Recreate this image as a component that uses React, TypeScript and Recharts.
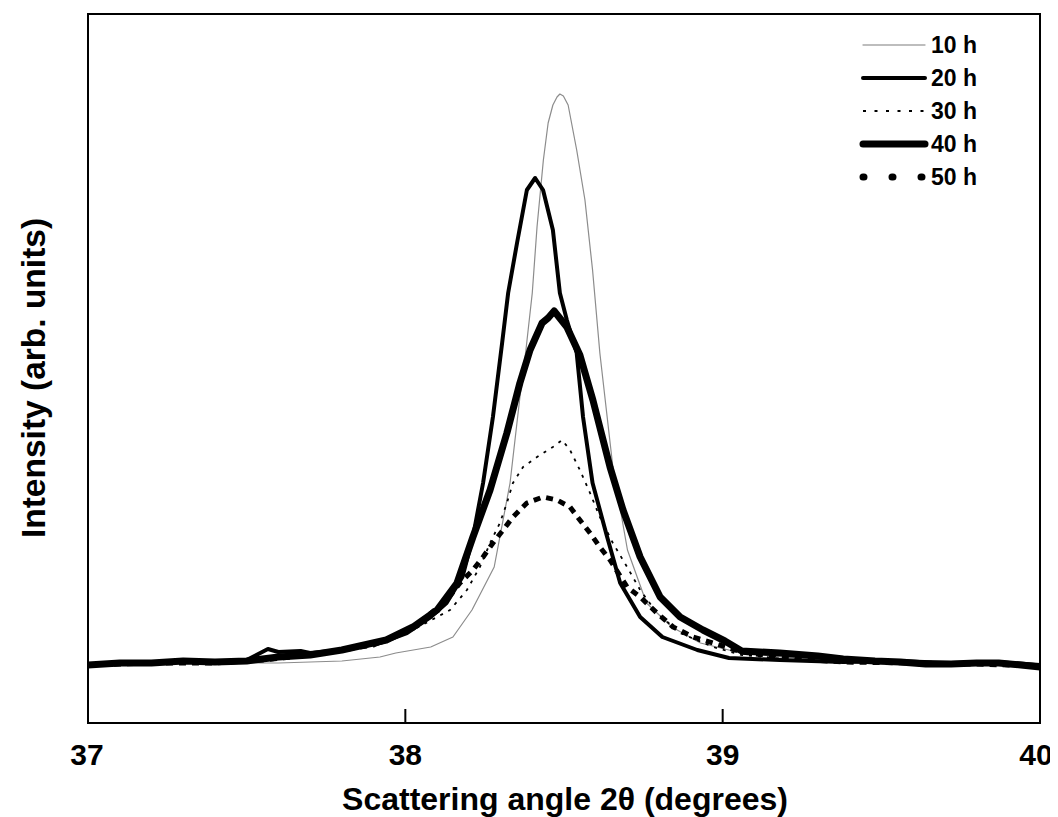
import React from "react";
import { LineChart, Line, XAxis, YAxis } from "recharts";

// Scattering angle 2θ (degrees) and intensity (arb. units)
const x10 = [37.0, 37.2, 37.4, 37.6, 37.7, 37.8, 37.92, 37.97, 38.08, 38.15, 38.21, 38.28, 38.33, 38.36, 38.38, 38.40, 38.415, 38.435, 38.45, 38.465, 38.478, 38.487, 38.498, 38.513, 38.54, 38.566, 38.59, 38.613, 38.654, 38.70, 38.76, 38.84, 38.93, 39.045, 39.18, 39.38, 39.72, 40.0];
const y10 = [-2, -1, 0, 0, 1, 2, 6, 10, 16, 26, 53, 96, 180, 263, 313, 370, 436, 503, 540, 558, 566, 569, 567, 558, 513, 463, 393, 310, 196, 113, 60, 36, 20, 11, 6, 2, 0, -1];

const x20 = [37.0, 37.1, 37.2, 37.3, 37.4, 37.5, 37.567, 37.6, 37.67, 37.7, 37.8, 37.92, 38.005, 38.08, 38.13, 38.18, 38.213, 38.245, 38.276, 38.305, 38.324, 38.352, 38.383, 38.409, 38.434, 38.465, 38.487, 38.509, 38.54, 38.56, 38.59, 38.636, 38.677, 38.74, 38.81, 38.92, 39.02, 39.18, 39.38, 39.55, 39.72, 39.86, 40.0];
const y20 = [-2, -1, 0, 1, 1, 3, 14, 11, 12, 10, 13, 20, 30, 46, 60, 86, 126, 180, 246, 320, 370, 420, 473, 485, 473, 433, 370, 343, 310, 246, 180, 126, 80, 46, 26, 13, 5, 3, 1, 2, 0, 1, -2];

const x30 = [37.0, 37.2, 37.4, 37.55, 37.7, 37.9, 38.024, 38.141, 38.194, 38.235, 38.267, 38.298, 38.32, 38.339, 38.371, 38.415, 38.465, 38.494, 38.519, 38.55, 38.582, 38.613, 38.654, 38.699, 38.74, 38.793, 38.866, 38.97, 39.06, 39.2, 39.38, 39.6, 39.8, 40.0];
const y30 = [-2, 0, 0, 3, 7, 18, 33, 53, 73, 96, 120, 140, 160, 180, 196, 206, 216, 223, 213, 193, 170, 146, 120, 96, 73, 50, 30, 16, 8, 4, 1, 0, -1, -2];

const x40 = [37.0, 37.1, 37.2, 37.3, 37.4, 37.5, 37.6, 37.7, 37.8, 37.94, 38.024, 38.10, 38.163, 38.213, 38.267, 38.32, 38.361, 38.393, 38.431, 38.45, 38.469, 38.509, 38.55, 38.591, 38.645, 38.686, 38.74, 38.803, 38.866, 38.938, 39.007, 39.06, 39.18, 39.3, 39.38, 39.48, 39.56, 39.64, 39.72, 39.8, 39.87, 39.94, 40.0];
const y40 = [-2, 0, 0, 2, 1, 2, 6, 8, 13, 23, 36, 53, 80, 126, 173, 230, 280, 313, 340, 345, 352, 336, 308, 263, 196, 153, 106, 66, 46, 33, 22, 12, 10, 7, 4, 2, 1, -1, -1, 0, 0, -2, -4];

const x50 = [37.0, 37.2, 37.4, 37.55, 37.7, 37.9, 38.024, 38.131, 38.172, 38.213, 38.245, 38.276, 38.308, 38.339, 38.383, 38.434, 38.478, 38.519, 38.55, 38.582, 38.613, 38.645, 38.699, 38.74, 38.793, 38.844, 38.907, 38.97, 39.06, 39.2, 39.38, 39.6, 39.8, 40.0];
const y50 = [-2, 0, 0, 3, 8, 18, 35, 63, 80, 93, 106, 120, 133, 146, 160, 166, 163, 156, 143, 130, 116, 103, 76, 66, 50, 36, 26, 20, 11, 5, 1, 0, -1, -3];

const seriesNames = ["10 h", "20 h", "30 h", "40 h", "50 h"];
const xTicks = [37, 38, 39, 40];
const xDomain: [number, number] = [37, 40];
const yDomain: [number, number] = [-60, 649];

const toData = (xs: number[], ys: number[]) => xs.map((x, i) => ({ x, y: ys[i] }));

const FONT = "'Liberation Sans', Arial, Helvetica, sans-serif";

const series = [
  { name: seriesNames[0], data: toData(x10, y10), stroke: "#8c8c8c", legendStroke: "#a8a8a8", width: 1.2, dash: undefined, legendDash: undefined, legendWidth: 1.3, cap: "round" },
  { name: seriesNames[1], data: toData(x20, y20), stroke: "#000", legendStroke: "#000", width: 4, dash: undefined, legendDash: undefined, legendWidth: 4, cap: "round" },
  { name: seriesNames[2], data: toData(x30, y30), stroke: "#000", legendStroke: "#000", width: 1.8, dash: "3 6", legendDash: "3 8.5", legendWidth: 1.8, cap: "butt" },
  { name: seriesNames[3], data: toData(x40, y40), stroke: "#000", legendStroke: "#000", width: 7, dash: undefined, legendDash: undefined, legendWidth: 7, cap: "round" },
  { name: seriesNames[4], data: toData(x50, y50), stroke: "#000", legendStroke: "#000", width: 5, dash: "7 6", legendDash: "1 28", legendWidth: 7, cap: "round" },
];

// layout constants
const W = 1050;
const H = 809;
const MARGIN = { top: 6, right: 18, bottom: 0, left: 0 };
const Y_AXIS_W = 80;
const X_AXIS_H = 94;
const PLOT = {
  x: MARGIN.left + Y_AXIS_W,
  y: MARGIN.top,
  w: W - MARGIN.left - Y_AXIS_W - MARGIN.right,
  h: H - MARGIN.top - MARGIN.bottom - X_AXIS_H,
};

const XTick = (props: any) => {
  const { x, y, payload, index } = props;
  const last = payload.value === xTicks[xTicks.length - 1];
  return (
    <g>
      <line x1={x} y1={y} x2={x} y2={y - 14} stroke="#000" strokeWidth={2} />
      <text
        x={last ? x - 4 : x - (index === 0 ? 1 : 0)}
        y={y + 42}
        textAnchor="middle"
        fontSize={30}
        fontWeight="bold"
        fontFamily={FONT}
        fill="#000"
      >
        {payload.value}
      </text>
    </g>
  );
};

export default function App() {
  return (
    <div style={{ position: "relative", width: W, height: H, background: "#fff" }}>
      <style>{`html{overflow:hidden}`}</style>
      <LineChart width={W} height={H} margin={MARGIN}>
        <XAxis
          dataKey="x"
          type="number"
          domain={xDomain}
          ticks={xTicks}
          tick={<XTick />}
          tickLine={false}
          tickSize={0}
          tickMargin={0}
          height={X_AXIS_H}
          axisLine={{ stroke: "#000", strokeWidth: 2 }}
          allowDataOverflow
        />
        <YAxis
          type="number"
          domain={yDomain}
          width={Y_AXIS_W}
          tick={false}
          tickLine={false}
          axisLine={{ stroke: "#000", strokeWidth: 2 }}
          allowDataOverflow
        />
        {series.map((s) => (
          <Line
            key={s.name}
            data={s.data}
            dataKey="y"
            name={s.name}
            type="linear"
            stroke={s.stroke}
            strokeWidth={s.width}
            strokeDasharray={s.dash}
            strokeLinejoin="round"
            dot={false}
            activeDot={false}
            isAnimationActive={false}
          />
        ))}
      </LineChart>
      <svg
        width={W}
        height={H}
        style={{ position: "absolute", left: 0, top: 0, pointerEvents: "none" }}
      >
        <rect x={PLOT.x} y={PLOT.y} width={PLOT.w} height={PLOT.h} fill="none" stroke="#000" strokeWidth={2} />
        <text
          transform="translate(25,370) rotate(-90)"
          textAnchor="middle"
          dominantBaseline="central"
          fontSize={33.5}
          fontWeight="bold"
          fontFamily={FONT}
          fill="#000"
        >
          Intensity (arb. units)
        </text>
        <text x={557} y={802} textAnchor="middle" fontSize={32} fontWeight="bold" fontFamily={FONT} fill="#000">
          Scattering angle 2θ (degrees)
        </text>
        {series.map((s, i) => {
          const cy = 37 + i * 33;
          return (
            <g key={s.name}>
              <line
                x1={855}
                x2={917}
                y1={cy}
                y2={cy}
                stroke={s.legendStroke}
                strokeWidth={s.legendWidth}
                strokeDasharray={s.legendDash}
                strokeLinecap={s.cap as any}
              />
              <text x={923} y={cy + 8} fontSize={23} fontWeight="bold" fontFamily={FONT} fill="#000">
                {s.name}
              </text>
            </g>
          );
        })}
      </svg>
    </div>
  );
}
